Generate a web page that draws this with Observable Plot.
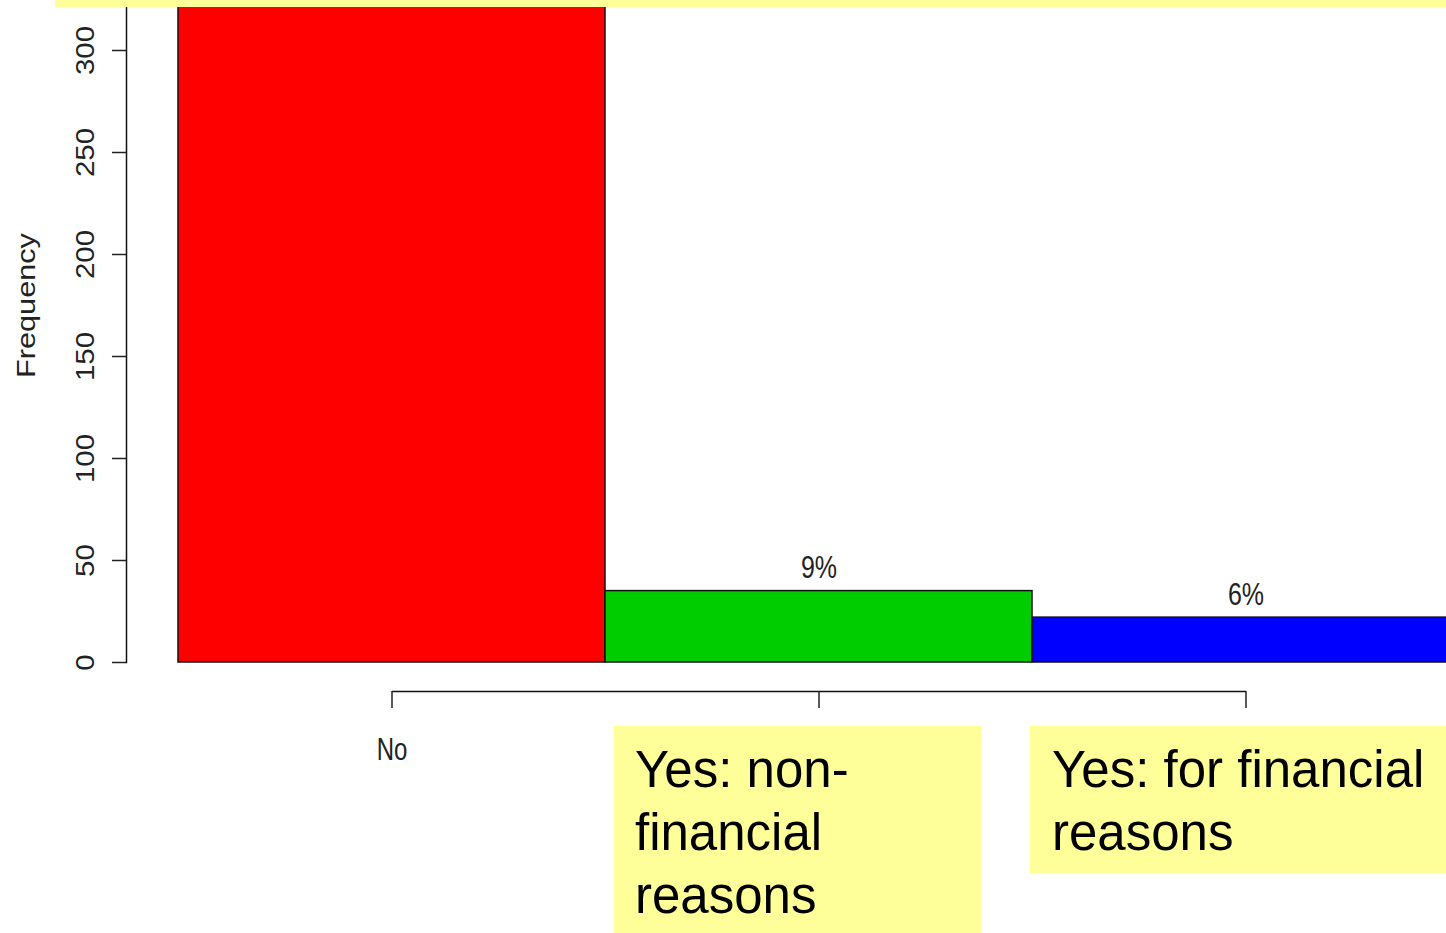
<!DOCTYPE html>
<html>
<head>
<meta charset="utf-8">
<script src="https://cdn.jsdelivr.net/npm/d3@7"></script>
<script src="https://cdn.jsdelivr.net/npm/@observablehq/plot@0.6"></script>
<style>
  html, body { margin: 0; padding: 0; background: #fff; }
  #wrap { position: relative; width: 1446px; height: 933px; overflow: hidden; }
  #chart { position: absolute; left: 0; top: 0; }
  .note { position: absolute; background: #ffff99; font-family: "Liberation Sans", Arial, sans-serif; font-size: 51px; line-height: 63px; color: #000; box-sizing: border-box; }
</style>
</head>
<body>
<div id="wrap">
  <div id="chart"></div>
  <div class="note" style="left:55px; top:0; width:1391px; height:7px;"></div>
  <div class="note" id="note1" style="left:614px; top:726px; width:367px; height:207px; padding:12px 20px 0 21px;"></div>
  <div class="note" id="note2" style="left:1030px; top:726px; width:416px; height:147px; padding:12px 0 0 22px;"></div>
</div>
<script>
const categories = ["No", "Yes: non-financial reasons", "Yes: for financial reasons"]
const frequency = [340, 35, 22]
const barColors = ["#ff0000", "#00cd00", "#0000ff"]
// etiqueta del rojo queda fuera del cuadro, no se ve
const pctLabels = [null, "9%", "6%"]
const yTicks = [0, 50, 100, 150, 200, 250, 300]

const data = categories.map((c, i) => ({cat: c, freq: frequency[i], color: barColors[i], pct: pctLabels[i]}))

let chart = Plot.plot({
  width: 1446,
  height: 933,
  marginTop: 0,
  marginBottom: 271,
  marginLeft: 126,
  marginRight: 0,
  style: {fontFamily: "'Liberation Sans', Arial, sans-serif", color: "#222", background: "white"},
  x: {type: "band", domain: categories, range: [178, 1459], padding: 0, label: null},
  y: {domain: [0, 300], range: [662, 50], label: null},
  color: {type: "identity"},
  marks: [
    Plot.barY(data, {x: "cat", y: "freq", fill: "color", stroke: "#111", strokeWidth: 1.5}),
    Plot.text(data.filter(d => d.pct), {x: "cat", y: "freq", text: "pct", dy: -13, lineAnchor: "bottom", fontSize: 25}),
    Plot.frame({anchor: "left", stroke: "#111", strokeWidth: 1.5}),
    Plot.axisY({ticks: yTicks, tickSize: 14, tickFormat: () => "", strokeWidth: 1.5, label: null}),
    Plot.text(yTicks, {y: d => d, text: d => String(d), frameAnchor: "left", dx: -33, rotate: -90, textAnchor: "middle", lineAnchor: "bottom", fontSize: 25}),
    Plot.text(["Frequency"], {frameAnchor: "left", dx: -92, dy: -26, rotate: -90, textAnchor: "middle", lineAnchor: "bottom", fontSize: 26}),
    Plot.link([0], {x1: () => categories[0], x2: () => categories[2], y1: () => 0, y2: () => 0, dy: 29, stroke: "#111", strokeWidth: 1.5}),
    Plot.axisX({tickSize: 17, dy: 29, tickFormat: () => "", strokeWidth: 1.5, label: null}),
    Plot.text([categories[0]], {x: d => d, frameAnchor: "bottom", dy: 97, lineAnchor: "bottom", fontSize: 24})
  ]
})

// el grafico original esta estirado en vertical
d3.select(chart).selectAll("text").each(function() {
  const t = this.getAttribute("transform") || ""
  this.setAttribute("transform", t + (t.includes("rotate") ? " scale(1.18,1)" : " scale(1,1.27)"))
})

d3.select('#chart').append(() => chart)
d3.select('#note1').text(categories[1])
d3.select('#note2').text(categories[2])
</script>
</body>
</html>
